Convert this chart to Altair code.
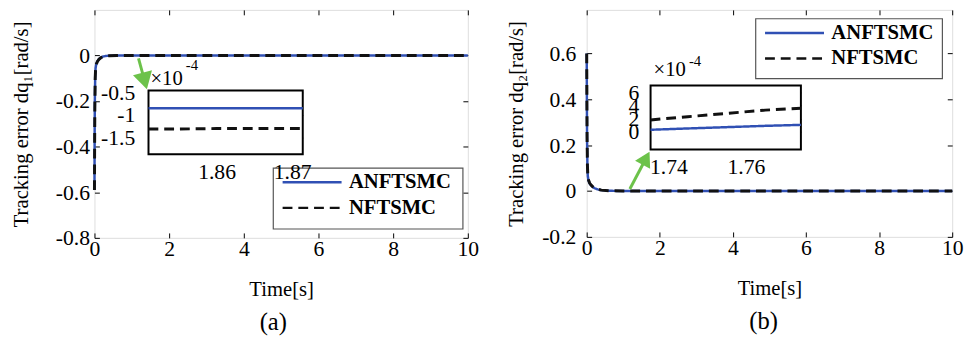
import altair as alt
import pandas as pd

FONT = "Liberation Serif"
BLUE = "#3050b4"
BLACK = "#111111"
GREEN = "#6cc24a"
SERIES = ["ANFTSMC", "NFTSMC"]

# ---------------- data ----------------
time_main = [0, 0.005, 0.01, 0.02, 0.03, 0.05, 0.08, 0.12, 0.17, 0.22, 0.3, 0.4, 0.6, 1.0,
             2, 3, 4, 5, 6, 7, 8, 9, 10]
a_anf = [-0.59, -0.35, -0.20, -0.09, -0.055, -0.036, -0.025, -0.016, -0.009, -0.005, -0.002, -0.001, 0, 0,
         0, 0, 0, 0, 0, 0, 0, 0, 0]
a_nf = [-0.59, -0.38, -0.23, -0.10, -0.060, -0.038, -0.026, -0.017, -0.010, -0.006, -0.003, -0.001, 0, 0,
        0, 0, 0, 0, 0, 0, 0, 0, 0]
b_anf = [0.60, 0.38, 0.22, 0.10, 0.065, 0.045, 0.033, 0.024, 0.017, 0.012, 0.007, 0.004, 0.001, 0,
         0, 0, 0, 0, 0, 0, 0, 0, 0]
b_nf = [0.60, 0.40, 0.24, 0.11, 0.070, 0.048, 0.035, 0.026, 0.018, 0.013, 0.008, 0.004, 0.0012, 0.0002,
        0, 0, 0, 0, 0, 0, 0, 0, 0]

# insets (values x 1e-4)
a_inset_t = [1.851, 1.855, 1.86, 1.865, 1.87, 1.8714]
a_inset_anf = [-0.85, -0.85, -0.85, -0.85, -0.85, -0.85]
a_inset_nf = [-1.31, -1.31, -1.30, -1.30, -1.30, -1.30]
b_inset_t = [1.7354, 1.745, 1.755, 1.765, 1.7742]
b_inset_anf = [0.3, 0.5, 0.7, 0.9, 1.05]
b_inset_nf = [1.8, 2.3, 2.8, 3.3, 3.6]

main_x_ticks = [0, 2, 4, 6, 8, 10]
a_y_ticks = [-0.8, -0.6, -0.4, -0.2, 0]
b_y_ticks = [-0.2, 0, 0.2, 0.4, 0.6]
a_inset_x_ticks = [1.86, 1.87]
a_inset_y_ticks = [-1.5, -1, -0.5]
b_inset_x_ticks = [1.74, 1.76]
b_inset_y_ticks = [0, 2, 4, 6]

NUM_FMT = "~r"
LAB = 22  # tick label font size


def long_df(t, s1, s2):
    rows = [{"t": x, "v": y, "series": SERIES[0]} for x, y in zip(t, s1)]
    rows += [{"t": x, "v": y, "series": SERIES[1]} for x, y in zip(t, s2)]
    return pd.DataFrame(rows)


def sc(dom, rng=None):
    if rng is None:
        return alt.Scale(domain=dom, nice=False, zero=False)
    return alt.Scale(domain=dom, range=rng, nice=False, zero=False)


def tick_axis(orient, offset, values, size=5):
    return alt.Axis(orient=orient, offset=offset, values=values, labels=False, domain=False,
                    grid=False, ticks=True, tickSize=size, tickColor="black", tickWidth=1,
                    title=None)


def tick_layer(xdom, ydom, xrange, yrange, xo, xoff, xv, yo, yoff, yv, size=5):
    d = pd.DataFrame({"x": xdom, "y": ydom})
    return alt.Chart(d).mark_point(opacity=0).encode(
        x=alt.X("x:Q", scale=sc(xdom, xrange), axis=tick_axis(xo, xoff, xv, size)),
        y=alt.Y("y:Q", scale=sc(ydom, yrange), axis=tick_axis(yo, yoff, yv, size)),
    )


def panel(c):
    W, H = c["W"], c["H"]
    leg = alt.Legend(orient="none", legendX=c["legX"], legendY=c["legY"], title=None,
                     labelFont=FONT, labelFontSize=21, labelFontWeight="bold", labelColor="black",
                     symbolType="M-1,0H5", symbolSize=400, symbolStrokeWidth=2.5,
                     labelOffset=46, rowPadding=4, padding=8, labelLimit=300)
    color = alt.Color("series:N", scale=alt.Scale(domain=SERIES, range=[BLUE, BLACK]), legend=leg)
    dash = alt.StrokeDash("series:N", scale=alt.Scale(domain=SERIES, range=[[1, 0], [10, 6]]), legend=leg)

    xdom = [0, 10]
    ydom = c["ydom"]
    xaxis = alt.Axis(orient="bottom", values=main_x_ticks, format=NUM_FMT, labelFont=FONT,
                     labelFontSize=LAB, labelColor="black", labelPadding=1, ticks=False,
                     domain=False, grid=False, labelFlush=False, labelOverlap=False,
                     title="Time[s]", titleFont=FONT, titleFontSize=21, titleFontWeight="normal",
                     titleColor="black", titlePadding=c["xTitlePad"])
    yaxis = alt.Axis(orient="left", values=c["yticks"], format=NUM_FMT, labelFont=FONT,
                     labelFontSize=LAB, labelColor="black", labelPadding=c["yLabPad"], ticks=False,
                     domain=False, grid=False, labelFlush=False, labelOverlap=False,
                     title=c["ytitle"], titleFont=FONT, titleFontSize=21,
                     titleFontWeight="normal", titleColor="black", titlePadding=c["yTitlePad"])

    df = long_df(time_main, c["s1"], c["s2"])
    base = alt.Chart(df)
    blue = base.transform_filter(alt.datum.series == SERIES[0]).mark_line(strokeWidth=2.5).encode(
        x=alt.X("t:Q", scale=sc(xdom), axis=xaxis), y=alt.Y("v:Q", scale=sc(ydom), axis=yaxis),
        color=color, strokeDash=dash)
    black = base.transform_filter(alt.datum.series == SERIES[1]).mark_line(strokeWidth=3).encode(
        x=alt.X("t:Q", scale=sc(xdom), axis=None), y=alt.Y("v:Q", scale=sc(ydom), axis=None),
        color=color, strokeDash=dash)

    # legend frame (decoration behind the legend entries)
    lx0, ly0, lx1, ly1 = c["legBox"]
    leg_box = alt.Chart(pd.DataFrame({"d": [0]})).mark_rect(
        fill="white", stroke="#555555", strokeWidth=1.2).encode(
        x=alt.value(lx0), x2=alt.value(lx1), y=alt.value(ly0), y2=alt.value(ly1))

    arr = pd.DataFrame({"t": [c["arrow"][0]], "v": [c["arrow"][1]],
                        "t2": [c["arrow"][2]], "v2": [c["arrow"][3]]})
    arrow_line = alt.Chart(arr).mark_rule(color=GREEN, strokeWidth=3).encode(
        x=alt.X("t:Q", scale=sc(xdom), axis=None), y=alt.Y("v:Q", scale=sc(ydom), axis=None),
        x2="t2:Q", y2="v2:Q")
    arrow_head = alt.Chart(arr).mark_point(shape="triangle-up", filled=True, color=GREEN,
                                           opacity=1, size=c["headSize"], angle=c["headAngle"]).encode(
        x=alt.X("t2:Q", scale=sc(xdom), axis=None), y=alt.Y("v2:Q", scale=sc(ydom), axis=None))

    txt1 = alt.Chart(pd.DataFrame({"d": [0]})).mark_text(
        text="×10", font=FONT, fontSize=21, align="left", baseline="alphabetic", color="black").encode(
        x=alt.value(c["mult"][0]), y=alt.value(c["mult"][1]))
    txt2 = alt.Chart(pd.DataFrame({"d": [0]})).mark_text(
        text="-4", font=FONT, fontSize=15, align="left", baseline="alphabetic", color="black").encode(
        x=alt.value(c["mult"][2]), y=alt.value(c["mult"][3]))

    layers = [blue, black, arrow_line, arrow_head, txt1, txt2]
    layers.append(tick_layer(xdom, ydom, None, None, "top", -H, main_x_ticks, "right", -W, c["yticks"]))
    layers.append(tick_layer(xdom, ydom, None, None, "bottom", -H, main_x_ticks, "left", -W, c["yticks"]))

    # inset
    il, ir, it, ib = c["ibox"]
    ixd, iyd = c["ixdom"], c["iydom"]
    ixr, iyr = [il, ir], [ib, it]
    ixaxis = alt.Axis(orient="bottom", offset=ib - H, values=c["ixticks"], format=NUM_FMT,
                      labelFont=FONT, labelFontSize=LAB, labelColor="black", labelPadding=c["ixLabPad"],
                      ticks=False, domain=False, grid=False, labelFlush=False, labelOverlap=False,
                      title=None, zindex=2)
    iyaxis = alt.Axis(orient="left", offset=-il, values=c["iyticks"], format=NUM_FMT,
                      labelFont=FONT, labelFontSize=LAB, labelColor="black", labelPadding=c["iyLabPad"],
                      ticks=False, domain=False, grid=False, labelFlush=False, labelOverlap=False,
                      title=None, zindex=2)
    frame_df = pd.DataFrame({"x0": [ixd[0]], "x1": [ixd[1]], "y0": [iyd[0]], "y1": [iyd[1]]})
    frame = alt.Chart(frame_df).mark_rect(fill="white", stroke="black", strokeWidth=2).encode(
        x=alt.X("x0:Q", scale=sc(ixd, ixr), axis=ixaxis), x2="x1:Q",
        y=alt.Y("y0:Q", scale=sc(iyd, iyr), axis=iyaxis), y2="y1:Q")
    idf = long_df(c["it"], c["i1"], c["i2"])
    ibase = alt.Chart(idf)
    iblue = ibase.transform_filter(alt.datum.series == SERIES[0]).mark_line(strokeWidth=2.5).encode(
        x=alt.X("t:Q", scale=sc(ixd, ixr), axis=None), y=alt.Y("v:Q", scale=sc(iyd, iyr), axis=None),
        color=color, strokeDash=dash)
    iblack = ibase.transform_filter(alt.datum.series == SERIES[1]).mark_line(strokeWidth=3).encode(
        x=alt.X("t:Q", scale=sc(ixd, ixr), axis=None), y=alt.Y("v:Q", scale=sc(iyd, iyr), axis=None),
        color=color, strokeDash=dash)
    layers += [frame, iblue, iblack]
    layers.append(tick_layer(ixd, iyd, ixr, iyr, "top", -ib, c["ixticks"], "right", il - W,
                             c["iyticks"], 4))
    layers.append(tick_layer(ixd, iyd, ixr, iyr, "bottom", it - H, c["ixticks"], "left", -ir,
                             c["iyticks"], 4))
    layers.append(leg_box)

    return alt.layer(*layers).resolve_scale(x="independent", y="independent").properties(
        width=W, height=H,
        title=alt.TitleParams(text=c["label"], orient="bottom", font=FONT, fontSize=25,
                              fontWeight="normal", color="black", offset=11, dx=c["labelDx"]))


cfg_a = dict(W=380, H=232, ydom=[-0.8, 0.2], yticks=a_y_ticks,
             ytitle="Tracking error dq₁[rad/s]", s1=a_anf, s2=a_nf,
             legX=182, legY=156, legBox=[182, 161, 375, 223],
             xTitlePad=20, yLabPad=5, yTitlePad=24,
             arrow=[1.18, -0.013, 1.345, -0.112], headSize=400, headAngle=165,
             mult=[57, 76, 93, 61],
             ibox=[55, 212, 82, 147], ixdom=[1.851, 1.8714], iydom=[-1.87, -0.457],
             ixticks=a_inset_x_ticks, iyticks=a_inset_y_ticks, ixLabPad=8, iyLabPad=14,
             it=a_inset_t, i1=a_inset_anf, i2=a_inset_nf, label="(a)", labelDx=-8)

cfg_b = dict(W=372, H=231, ydom=[-0.2, 0.79], yticks=b_y_ticks,
             ytitle="Tracking error dq₂[rad/s]", s1=b_anf, s2=b_nf,
             legX=172, legY=4, legBox=[172, 9, 362, 70],
             xTitlePad=20, yLabPad=11, yTitlePad=16,
             arrow=[1.18, 0.0086, 1.624, 0.143], headSize=300, headAngle=28,
             mult=[68, 67, 104, 57],
             ibox=[65, 218, 77, 142], ixdom=[1.7354, 1.7742], iydom=[-2.7, 7.05],
             ixticks=b_inset_x_ticks, iyticks=b_inset_y_ticks, ixLabPad=8, iyLabPad=12,
             it=b_inset_t, i1=b_inset_anf, i2=b_inset_nf, label="(b)", labelDx=-6)

chart = alt.hconcat(panel(cfg_a), panel(cfg_b), spacing=25).resolve_scale(
    color="independent", strokeDash="independent").properties(
    padding={"left": 2, "top": -5, "right": 0, "bottom": 0}, background="white"
).configure_view(stroke="black", strokeWidth=2).configure(
    locale=alt.Locale(number=alt.NumberLocale(decimal=".", thousands=",", grouping=[3],
                                               currency=["$", ""], minus="-"))
)

chart.save("out.html", embed_options={"renderer": "svg", "actions": False})
